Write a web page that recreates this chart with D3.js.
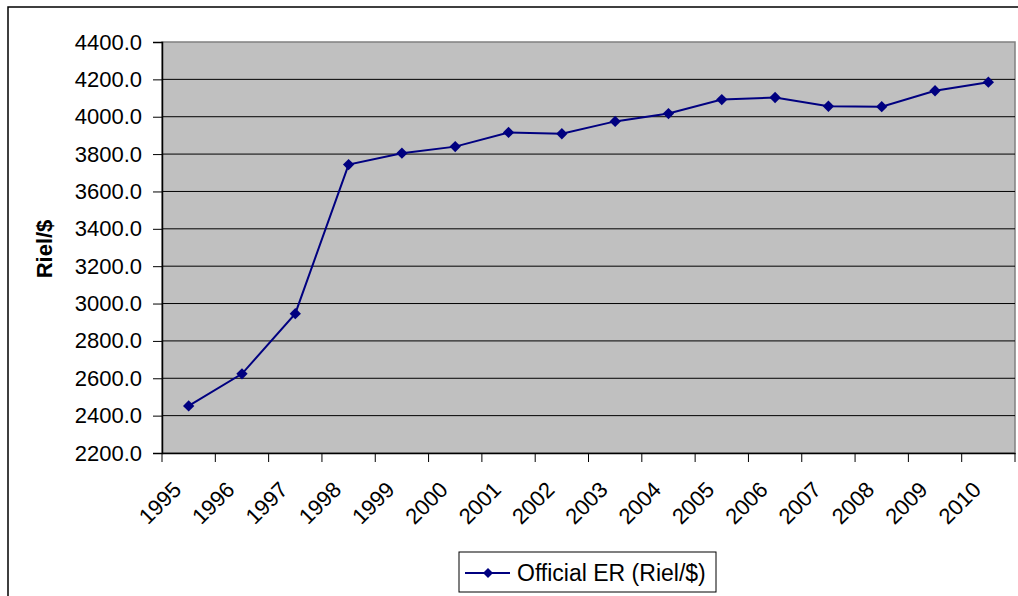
<!DOCTYPE html>
<html>
<head>
<meta charset="utf-8">
<script src="https://cdn.jsdelivr.net/npm/d3@7"></script>
<style>
  body { margin: 0; background: #fff; }
  svg { display: block; font-family: "Liberation Sans", Arial, sans-serif; }
</style>
</head>
<body>
<div id="chart"></div>
<script>
const years = ['1995', '1996', '1997', '1998', '1999', '2000', '2001', '2002',
  '2003', '2004', '2005', '2006', '2007', '2008', '2009', '2010'];
const officialER = [2452, 2624, 2946, 3744, 3805, 3840, 3916, 3909,
  3975, 4017, 4092, 4103, 4056, 4054, 4139, 4185];
const yTicks = [2200, 2400, 2600, 2800, 3000, 3200, 3400, 3600, 3800, 4000, 4200, 4400];
const seriesName = 'Official ER (Riel/$)';
const yTitle = 'Riel/$';

const width = 1018, height = 596;
const plot = { left: 162, top: 42, right: 1015, bottom: 453 };

const svg = d3.select('#chart').append('svg')
  .attr('width', width)
  .attr('height', height);

// outer chart border
svg.append('rect')
  .attr('x', 8).attr('y', 7)
  .attr('width', 1030).attr('height', 610)
  .attr('fill', '#fff')
  .attr('stroke', '#000')
  .attr('stroke-width', 1.5);

const x = d3.scaleBand()
  .domain(years)
  .range([plot.left, plot.right]);

const y = d3.scaleLinear()
  .domain([2200, 4400])
  .range([plot.bottom, plot.top]);

// plot area
svg.append('rect')
  .attr('x', plot.left).attr('y', plot.top)
  .attr('width', plot.right - plot.left)
  .attr('height', plot.bottom - plot.top)
  .attr('fill', '#c0c0c0')
  .attr('stroke', '#808080')
  .attr('stroke-width', 1.5);

// gridlines
svg.append('g')
  .selectAll('line')
  .data(yTicks.filter(d => d !== 2200 && d !== 4400))
  .join('line')
  .attr('x1', plot.left).attr('x2', plot.right)
  .attr('y1', d => y(d)).attr('y2', d => y(d))
  .attr('stroke', '#000')
  .attr('stroke-width', 1);

// y axis
const yAxis = svg.append('g')
  .attr('transform', `translate(${plot.left},0)`)
  .call(d3.axisLeft(y).tickValues(yTicks).tickSize(9).tickPadding(11)
    .tickFormat(d3.format('.1f')));
yAxis.select('.domain').attr('stroke', '#000').attr('stroke-width', 1.5);
yAxis.selectAll('.tick line').attr('stroke', '#000');
yAxis.selectAll('text')
  .attr('font-size', 22)
  .attr('fill', '#000')
  .attr('font-family', '"Liberation Sans", Arial, sans-serif');

// x axis
const xAxis = svg.append('g')
  .attr('transform', `translate(0,${plot.bottom})`)
  .call(d3.axisBottom(x).tickSize(0).tickFormat(''));
xAxis.select('.domain').attr('stroke', '#000').attr('stroke-width', 1.5);

// category boundary ticks
svg.append('g')
  .selectAll('line')
  .data(years.concat(['end']))
  .join('line')
  .attr('x1', (d, i) => plot.left + i * x.step())
  .attr('x2', (d, i) => plot.left + i * x.step())
  .attr('y1', plot.bottom)
  .attr('y2', plot.bottom + 9)
  .attr('stroke', '#000')
  .attr('stroke-width', 1);

svg.append('g')
  .selectAll('text')
  .data(years)
  .join('text')
  .attr('transform', d => `translate(${x(d) + x.bandwidth() / 2 - 6},491) rotate(-45)`)
  .attr('text-anchor', 'end')
  .attr('font-size', 22)
  .attr('fill', '#000')
  .text(d => d);

// y title
svg.append('text')
  .attr('transform', 'translate(52,249) rotate(-90)')
  .attr('text-anchor', 'middle')
  .attr('font-size', 22)
  .attr('font-weight', 'bold')
  .attr('fill', '#000')
  .text(yTitle);

// series
const line = d3.line()
  .x((d, i) => x(years[i]) + x.bandwidth() / 2)
  .y(d => y(d));

svg.append('path')
  .datum(officialER)
  .attr('d', line)
  .attr('fill', 'none')
  .attr('stroke', '#000080')
  .attr('stroke-width', 2);

const diamond = d3.symbol(d3.symbolSquare, 64);

svg.append('g')
  .selectAll('path')
  .data(officialER)
  .join('path')
  .attr('d', diamond)
  .attr('transform', (d, i) => `translate(${x(years[i]) + x.bandwidth() / 2},${y(d)}) rotate(45)`)
  .attr('fill', '#000080');

// legend
const legend = svg.append('g');
legend.append('rect')
  .attr('x', 459).attr('y', 552)
  .attr('width', 257).attr('height', 40)
  .attr('fill', '#fff')
  .attr('stroke', '#000')
  .attr('stroke-width', 1);
legend.append('line')
  .attr('x1', 465).attr('x2', 510)
  .attr('y1', 573).attr('y2', 573)
  .attr('stroke', '#000080')
  .attr('stroke-width', 2);
legend.append('path')
  .attr('d', d3.symbol(d3.symbolSquare, 50))
  .attr('transform', 'translate(488,573) rotate(45)')
  .attr('fill', '#000080');
legend.append('text')
  .attr('x', 517).attr('y', 581)
  .attr('font-size', 23)
  .attr('fill', '#000')
  .text(seriesName);
</script>
</body>
</html>
